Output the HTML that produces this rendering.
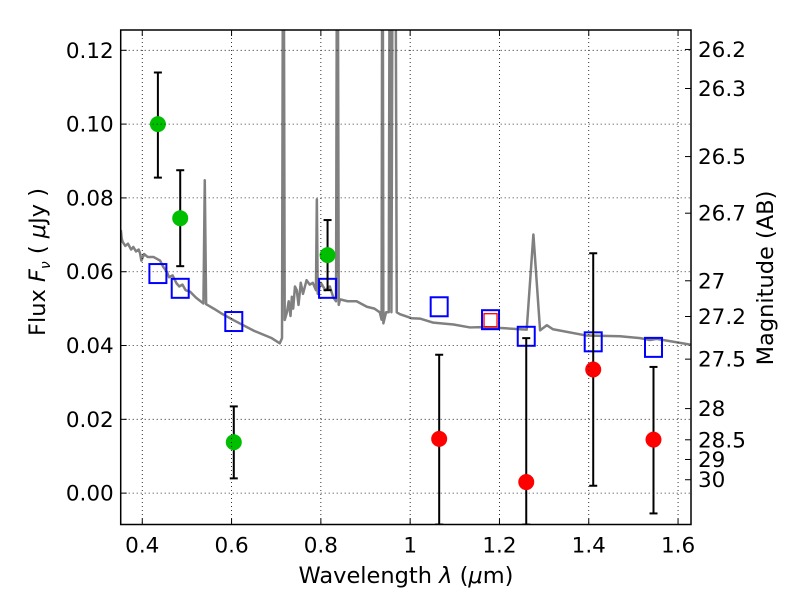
<!DOCTYPE html>
<html><head><meta charset="utf-8"><style>
body{margin:0;background:#fff;}
svg{display:block;font-family:"DejaVu Sans","Liberation Sans",sans-serif;}
</style></head><body>
<svg id="c" width="800" height="600"></svg>
<script>
const xTicks=[0.4,0.6,0.8,1.0,1.2,1.4,1.6];
const xTickLabels=["0.4","0.6","0.8","1","1.2","1.4","1.6"];
const yTicks=[0,0.02,0.04,0.06,0.08,0.10,0.12];
const yTickLabels=["0.00","0.02","0.04","0.06","0.08","0.10","0.12"];
const magTicks=[26.2,26.3,26.5,26.7,27,27.2,27.5,28,28.5,29,30];
const magLabels=["26.2","26.3","26.5","26.7","27","27.2","27.5","28","28.5","29","30"];
const specWave=[0.352,0.354,0.356,0.362,0.368,0.375,0.380,0.386,0.392,0.395,0.398,0.404,0.412,0.425,0.440,0.447,0.455,0.460,0.468,0.477,0.483,0.490,0.497,0.507,0.520,0.537,0.540,0.543,0.560,0.580,0.604,0.650,0.690,0.708,0.713,0.716,0.719,0.724,0.728,0.732,0.735,0.738,0.742,0.746,0.750,0.755,0.760,0.768,0.775,0.782,0.789,0.791,0.793,0.800,0.810,0.820,0.828,0.834,0.837,0.840,0.843,0.860,0.880,0.903,0.920,0.932,0.936,0.938,0.940,0.946,0.952,0.955,0.958,0.962,0.966,0.970,0.977,1.003,1.022,1.052,1.097,1.134,1.160,1.208,1.261,1.276,1.291,1.306,1.320,1.395,1.470,1.515,1.537,1.552,1.630];
const specFlux=[0.0713,0.0690,0.0681,0.0670,0.0676,0.0660,0.0667,0.0655,0.0660,0.0650,0.0630,0.0648,0.0640,0.0640,0.0630,0.0613,0.0600,0.0585,0.0590,0.0568,0.0560,0.0565,0.0550,0.0546,0.0530,0.0514,0.0848,0.0512,0.0500,0.0485,0.0469,0.0440,0.0420,0.0406,0.0420,0.2,0.0469,0.0490,0.0520,0.0480,0.0532,0.0500,0.0560,0.0550,0.0510,0.0570,0.0540,0.0577,0.0565,0.0570,0.0550,0.0796,0.0540,0.0570,0.0550,0.0560,0.0530,0.0520,0.2,0.0510,0.0525,0.0520,0.0520,0.0505,0.0500,0.0490,0.0470,0.2,0.0460,0.0490,0.0490,0.2,0.0490,0.2,0.2,0.0490,0.0485,0.0474,0.0473,0.0462,0.0457,0.0449,0.0450,0.0447,0.0443,0.0701,0.0441,0.0455,0.0444,0.0427,0.0425,0.0420,0.0415,0.0418,0.0402];
const greenWave=[0.435,0.485,0.605,0.815];
const greenFlux=[0.100,0.0745,0.0138,0.0645];
const greenLo=[0.0855,0.0615,0.0040,0.0550];
const greenHi=[0.114,0.0875,0.0235,0.0740];
const redWave=[1.065,1.26,1.41,1.545];
const redFlux=[0.0147,0.0030,0.0335,0.0145];
const redLo=[-0.0085,-0.0085,0.0020,-0.0055];
const redHi=[0.0375,0.0420,0.0650,0.0342];
const modelWave=[0.435,0.485,0.605,0.815,1.065,1.26,1.41,1.545];
const modelFlux=[0.0595,0.0555,0.0465,0.0555,0.0505,0.0425,0.0410,0.0395];
const redModelWave=[1.18];
const redModelFlux=[0.0470];

const L=120.7,R=691,T=30,B=524.5;
const XMIN=0.3517,XMAX=1.6290,YMIN=-0.0085,YMAX=0.1255;
const sx=v=>L+(v-XMIN)/(XMAX-XMIN)*(R-L);
const sy=v=>B-(v-YMIN)/(YMAX-YMIN)*(B-T);
const svg=document.getElementById('c');const NS='http://www.w3.org/2000/svg';
function mk(tag,attrs,parent){const e=document.createElementNS(NS,tag);for(const k in attrs)e.setAttribute(k,attrs[k]);(parent||svg).appendChild(e);return e;}
const defs=mk('defs',{});const cp=mk('clipPath',{id:'clip'},defs);mk('rect',{x:L,y:T,width:R-L,height:B-T},cp);
const plot=mk('g',{'clip-path':'url(#clip)'});


xTicks.forEach((t,i)=>{const x=sx(t);
 const g=mk('line',{x1:x,x2:x,y1:T,y2:B,stroke:'#000','stroke-width':0.8,'stroke-dasharray':'1,3'});
 
 
 mk('line',{x1:x,x2:x,y1:B,y2:B-6,stroke:'#000'});mk('line',{x1:x,x2:x,y1:T,y2:T+6,stroke:'#000'});
 const tx=mk('text',{x:x,y:B+28,'font-size':21.5,'text-anchor':'middle'});tx.textContent=xTickLabels[i];
 
 });
yTicks.forEach((t,i)=>{const y=sy(t);
 const g=mk('line',{x1:L,x2:R,y1:y,y2:y,stroke:'#000','stroke-width':0.8,'stroke-dasharray':'1,3'});
 
 
 mk('line',{x1:L,x2:L+6,y1:y,y2:y,stroke:'#000'});
 const tx=mk('text',{x:L-7,y:y+7.5,'font-size':21.5,'text-anchor':'end'});tx.textContent=yTickLabels[i];
 
 });
magTicks.forEach((m,i)=>{const f=Math.pow(10,(23.9-m)/2.5);const y=sy(f);
 mk('line',{x1:R,x2:R-6,y1:y,y2:y,stroke:'#000'});
 const tx=mk('text',{x:R+7,y:y+7.5,'font-size':21.5});tx.textContent=magLabels[i];
 
 });
const sp=mk('polyline',{points:specWave.map((w,i)=>sx(w)+','+sy(specFlux[i])).join(' '),fill:'none',stroke:'#808080','stroke-width':2.5,'stroke-linejoin':'round'},plot);


modelWave.forEach((w,i)=>{const r=mk('rect',{x:sx(w)-8.5,y:sy(modelFlux[i])-9.5,width:17,height:19,fill:'none',stroke:'#0000ff','stroke-width':2},plot);
 
 });
redModelWave.forEach((w,i)=>{const x=sx(w),y=sy(redModelFlux[i]);
 const r=mk('rect',{x:x-8.5,y:y-9.5,width:17,height:19,fill:'none',stroke:'#0000ff','stroke-width':2},plot);
 
 
 const r2=mk('rect',{x:x-6.5,y:y-6,width:13,height:13,fill:'none',stroke:'#ff0000','stroke-width':1.3},plot);
 
 });
function pts(ws,fs,lo,hi,col,name){ws.forEach((w,i)=>{const x=sx(w);
 const e=mk('g',{},plot);
 
 
 mk('line',{x1:x,x2:x,y1:sy(lo[i]),y2:sy(hi[i]),stroke:'#000','stroke-width':2},e);
 mk('line',{x1:x-4,x2:x+4,y1:sy(lo[i]),y2:sy(lo[i]),stroke:'#000','stroke-width':2},e);
 mk('line',{x1:x-4,x2:x+4,y1:sy(hi[i]),y2:sy(hi[i]),stroke:'#000','stroke-width':2},e);
 const c=mk('circle',{cx:x,cy:sy(fs[i]),r:8,fill:col},plot);
 
 });}
pts(greenWave,greenFlux,greenLo,greenHi,'#00bf00','optical-detection');
pts(redWave,redFlux,redLo,redHi,'#ff0000','nir-detection');
const fr=mk('rect',{x:L,y:T,width:R-L,height:B-T,fill:'none',stroke:'#000','stroke-width':1.5});


const xl=mk('text',{x:406,y:583,'font-size':22.5,'text-anchor':'middle','xml:space':'preserve'});xl.innerHTML='Wavelength  <tspan font-style="italic">λ</tspan> (<tspan font-style="italic">μ</tspan>m)';


const yl=mk('text',{x:0,y:0,'font-size':22.5,'text-anchor':'middle',transform:'translate(45,262) rotate(-90)','xml:space':'preserve'});yl.innerHTML='Flux  <tspan font-style="italic">F</tspan><tspan font-style="italic" font-size="14" dy="5">ν</tspan><tspan dy="-5">  (  </tspan><tspan font-style="italic">μ</tspan>Jy )';


const ml=mk('text',{x:0,y:0,'font-size':22.5,'text-anchor':'middle',transform:'translate(773,278) rotate(-90)'});ml.textContent='Magnitude (AB)';


</script>
</body></html>
